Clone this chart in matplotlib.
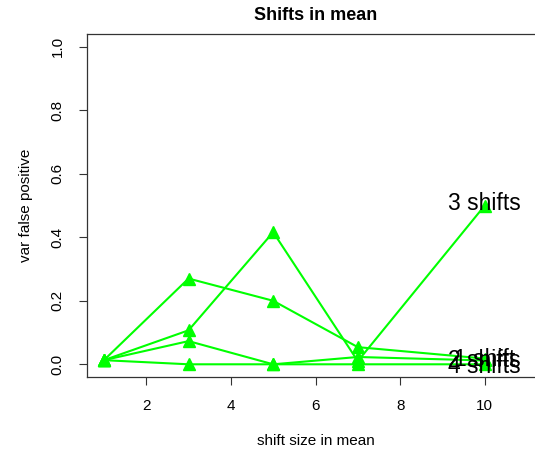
import matplotlib
matplotlib.use("Agg")
import matplotlib.pyplot as plt

plt.rcParams['font.family'] = ['Liberation Sans', 'DejaVu Sans']

# shift sizes and false positive rates for each number of shifts
shift_size = [1, 3, 5, 7, 10]
one_shift = [0.013, 0.27, 0.20, 0.054, 0.018]
two_shifts = [0.013, 0.073, 0.0, 0.023, 0.012]
three_shifts = [0.013, 0.107, 0.416, 0.01, 0.50]
four_shifts = [0.013, 0.0, 0.0, 0.0, 0.0]

series = [one_shift, two_shifts, three_shifts, four_shifts]
labels = ["1 shift", "2 shifts", "3 shifts", "4 shifts"]
label_y = [0.014, 0.012, 0.505, -0.006]

fig = plt.figure(figsize=(5.35, 4.58), dpi=100)
ax = fig.add_axes([87 / 535, 1 - 377 / 458, (544 - 87) / 535, (377 - 34) / 458])

for vals, lab, ly in zip(series, labels, label_y):
    ax.plot(shift_size, vals, color='#00ff00', lw=1.5, marker='^',
            markersize=8.5, clip_on=False)
    ax.text(shift_size[-1], ly, lab, fontsize=16.5, ha='center', va='center')

ax.set_xlim(0.6, 11.4)
ax.set_ylim(-0.04, 1.04)
ax.set_xticks([2, 4, 6, 8, 10])
ax.set_yticks([0.0, 0.2, 0.4, 0.6, 0.8, 1.0])
ax.set_yticklabels(['0.0', '0.2', '0.4', '0.6', '0.8', '1.0'], rotation=90, va='center')
ax.tick_params(length=6, width=0.8, color='#333333', labelsize=11, pad=10)
for s in ax.spines.values():
    s.set_color('#333333')
    s.set_linewidth(0.9)

ax.set_title('Shifts in mean', fontsize=13, fontweight='bold', pad=10)
ax.set_xlabel('shift size in mean', fontsize=11, labelpad=15)
ax.set_ylabel('var false positive', fontsize=11, labelpad=13)

fig.savefig('out.png', dpi=100)
